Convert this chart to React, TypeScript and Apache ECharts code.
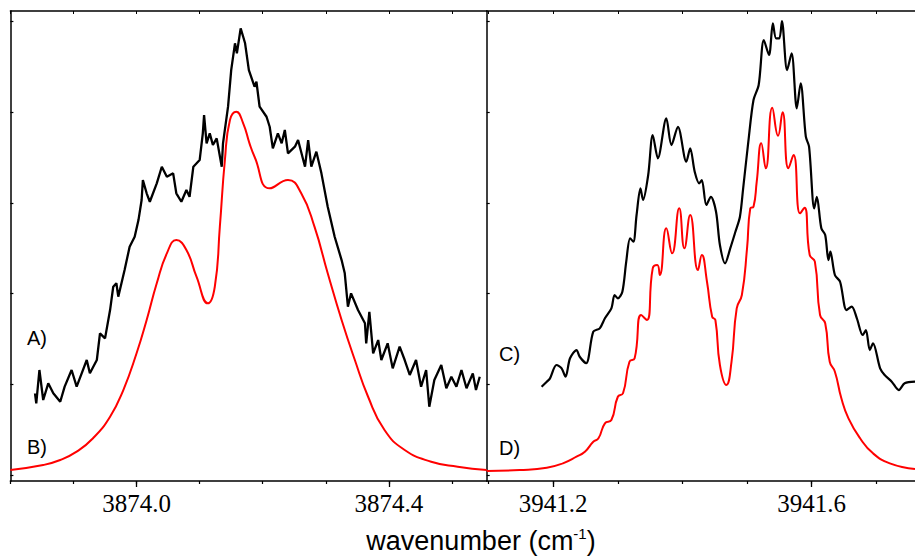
import React, { useEffect, useRef } from "react";
import * as echarts from "echarts";

// ---- Data (wavenumber in cm^-1, intensity in arbitrary units) ----
const specA_wn = [3873.839,3873.841,3873.846,3873.852,3873.860,3873.868,3873.879,3873.886,3873.897,3873.905,3873.913,3873.921,3873.926,3873.937,3873.942,3873.950,3873.958,3873.963,3873.968,3873.971,3873.981,3873.989,3873.997,3874.003,3874.008,3874.010,3874.016,3874.021,3874.032,3874.040,3874.048,3874.058,3874.063,3874.071,3874.079,3874.084,3874.090,3874.100,3874.105,3874.107,3874.111,3874.116,3874.121,3874.127,3874.135,3874.137,3874.145,3874.150,3874.156,3874.159,3874.165,3874.169,3874.172,3874.178,3874.187,3874.190,3874.195,3874.206,3874.211,3874.216,3874.224,3874.230,3874.235,3874.240,3874.251,3874.256,3874.267,3874.272,3874.277,3874.285,3874.293,3874.303,3874.314,3874.325,3874.330,3874.335,3874.340,3874.351,3874.362,3874.364,3874.369,3874.375,3874.383,3874.388,3874.398,3874.406,3874.417,3874.425,3874.433,3874.443,3874.451,3874.459,3874.464,3874.472,3874.483,3874.491,3874.499,3874.507,3874.515,3874.523,3874.533,3874.538,3874.544];
const specA_int = [0.901,0.791,1.158,0.827,1.011,0.901,0.808,0.974,1.158,0.974,1.121,1.268,1.121,1.268,1.562,1.507,1.819,2.076,2.114,1.966,2.260,2.517,2.627,2.811,3.032,3.252,3.106,3.013,3.216,3.399,3.289,3.326,3.106,3.013,3.142,3.068,3.399,3.473,3.767,3.969,3.657,3.767,3.638,3.712,3.399,3.657,4.061,4.465,4.760,4.649,4.925,4.832,4.760,4.465,4.281,4.336,4.061,3.950,3.840,3.602,3.767,3.657,3.804,3.547,3.620,3.693,3.399,3.693,3.399,3.565,3.326,2.958,2.627,2.370,2.224,1.856,2.003,1.819,1.673,1.452,1.800,1.342,1.488,1.268,1.452,1.176,1.415,1.268,1.103,1.268,0.974,1.158,0.753,1.047,1.213,0.956,1.084,0.974,1.158,0.956,1.121,0.937,1.084];

const specB_wn = [3873.800,3873.852,3873.879,3873.905,3873.931,3873.958,3873.979,3874.000,3874.016,3874.032,3874.048,3874.063,3874.079,3874.095,3874.113,3874.124,3874.132,3874.140,3874.148,3874.158,3874.169,3874.179,3874.187,3874.211,3874.240,3874.261,3874.282,3874.303,3874.325,3874.346,3874.367,3874.393,3874.425,3874.467,3874.509,3874.555];
const specB_int = [0.055,0.110,0.165,0.257,0.405,0.643,0.937,1.342,1.709,2.114,2.444,2.591,2.481,2.186,1.893,2.076,2.738,3.473,3.914,4.006,3.878,3.657,3.509,3.161,3.252,3.106,2.738,2.224,1.709,1.268,0.863,0.496,0.276,0.147,0.092,0.055];

const specC_wn = [3941.182,3941.190,3941.195,3941.205,3941.213,3941.219,3941.226,3941.236,3941.241,3941.251,3941.262,3941.272,3941.280,3941.290,3941.295,3941.300,3941.307,3941.313,3941.319,3941.324,3941.329,3941.335,3941.339,3941.347,3941.354,3941.362,3941.375,3941.383,3941.393,3941.406,3941.412,3941.419,3941.426,3941.430,3941.437,3941.444,3941.452,3941.458,3941.466,3941.474,3941.482,3941.489,3941.494,3941.502,3941.510,3941.518,3941.526,3941.534,3941.540,3941.545,3941.550,3941.554,3941.562,3941.569,3941.577,3941.583,3941.591,3941.596,3941.604,3941.608,3941.615,3941.621,3941.626,3941.629,3941.636,3941.644,3941.654,3941.662,3941.670,3941.679,3941.684,3941.690,3941.695,3941.706,3941.713,3941.724,3941.735,3941.744,3941.760];
const specC_int = [0.974,1.029,1.066,1.213,1.176,1.084,1.287,1.378,1.304,1.232,1.580,1.617,1.728,1.838,1.985,1.948,2.021,2.352,2.610,2.572,2.867,3.161,3.032,3.308,3.749,3.492,3.933,3.638,3.840,3.454,3.602,3.344,3.216,3.252,2.977,3.068,2.903,2.536,2.334,2.499,2.682,2.848,3.161,3.675,4.134,4.300,4.796,4.631,4.980,4.815,4.815,5.006,4.465,4.649,4.043,4.319,3.730,3.620,2.940,3.068,2.720,2.646,2.370,2.462,2.205,2.131,1.819,1.856,1.728,1.544,1.599,1.378,1.452,1.176,1.103,1.029,0.937,1.011,1.029];

const specD_wn = [3941.097,3941.148,3941.190,3941.215,3941.236,3941.249,3941.262,3941.270,3941.280,3941.290,3941.300,3941.308,3941.318,3941.326,3941.336,3941.345,3941.354,3941.361,3941.365,3941.375,3941.384,3941.395,3941.403,3941.412,3941.424,3941.430,3941.438,3941.446,3941.451,3941.458,3941.468,3941.476,3941.484,3941.492,3941.500,3941.505,3941.510,3941.515,3941.522,3941.529,3941.539,3941.548,3941.555,3941.564,3941.572,3941.582,3941.589,3941.597,3941.605,3941.613,3941.621,3941.628,3941.636,3941.646,3941.657,3941.675,3941.695,3941.721,3941.760];
const specD_int = [0.044,0.055,0.080,0.129,0.202,0.257,0.367,0.405,0.570,0.606,0.863,0.901,1.249,1.287,1.764,1.709,2.279,2.315,2.205,2.720,2.444,2.940,2.499,2.867,2.260,2.426,2.131,1.745,1.709,1.213,0.992,1.249,1.838,1.985,2.499,2.940,2.958,3.234,3.657,3.381,4.050,3.741,3.999,3.381,3.528,2.885,2.947,2.426,2.352,1.764,1.673,1.249,1.139,0.846,0.625,0.405,0.239,0.129,0.066];

const leftRange = [3873.8, 3874.555];
const rightRange = [3941.097, 3941.76];
const intensityRange = [-0.066, 5.116];
const leftLabelTicks = [3874.0, 3874.4];
const leftMinorTicks = [3873.8, 3873.9, 3874.0, 3874.1, 3874.2, 3874.3, 3874.4, 3874.5];
const rightLabelTicks = [3941.2, 3941.6];
const rightMinorTicks = [3941.1, 3941.2, 3941.3, 3941.4, 3941.5, 3941.6, 3941.7];
const intensityTicks = [0, 1, 2, 3, 4, 5];
const panelLabels = ["A)", "B)", "C)", "D)"];
const axisTitleMain = "wavenumber (cm";
const axisTitleSup = "-1";
const axisTitleEnd = ")";

const zip = (x: number[], y: number[]) => {
  const n = Math.min(x.length, y.length);
  const out: number[][] = [];
  for (let i = 0; i < n; i++) out.push([x[i], y[i]]);
  return out;
};

const AX = "#000";
const SANS = "Liberation Sans";
const SERIF = "Liberation Serif";

function bottomMajor(gridIndex: number, range: number[], ticks: number[]) {
  return {
    type: "value", gridIndex, position: "bottom", min: range[0], max: range[1],
    axisLine: { show: true, onZero: false, lineStyle: { color: AX, width: 1.5 } },
    axisTick: { show: true, inside: false, length: 6, customValues: ticks, lineStyle: { color: AX, width: 1.3 } },
    axisLabel: {
      show: true, customValues: ticks, margin: 10,
      formatter: (v: number) => v.toFixed(1),
      fontFamily: SERIF, fontSize: 25, color: "#000",
    },
    splitLine: { show: false },
  };
}
function bottomMinor(gridIndex: number, range: number[], ticks: number[]) {
  return {
    type: "value", gridIndex, position: "bottom", min: range[0], max: range[1],
    axisLine: { show: false, onZero: false },
    axisTick: { show: true, inside: false, length: 3, customValues: ticks, lineStyle: { color: AX, width: 1.2 } },
    axisLabel: { show: false },
    splitLine: { show: false },
  };
}
function topAxis(gridIndex: number, range: number[], ticks: number[]) {
  return {
    type: "value", gridIndex, position: "top", min: range[0], max: range[1],
    axisLine: { show: true, onZero: false, lineStyle: { color: AX, width: 1.5 } },
    axisTick: { show: true, inside: true, length: 3, customValues: ticks, lineStyle: { color: AX, width: 1 } },
    axisLabel: { show: false },
    splitLine: { show: false },
  };
}
function leftAxis(gridIndex: number) {
  return {
    type: "value", gridIndex, position: "left", min: intensityRange[0], max: intensityRange[1],
    axisLine: { show: true, onZero: false, lineStyle: { color: AX, width: 1.5 } },
    axisTick: { show: true, inside: true, length: 3, customValues: intensityTicks, lineStyle: { color: AX, width: 1.2 } },
    axisLabel: { show: false },
    splitLine: { show: false },
  };
}

export default function App() {
  const ref = useRef<HTMLDivElement>(null);
  useEffect(() => {
    if (!ref.current) return;
    const chart = echarts.init(ref.current, undefined, { renderer: "svg" });
    const line = (name: string, xi: number, yi: number, data: number[][], color: string, smooth: number | boolean, width: number) => ({
      name, type: "line", xAxisIndex: xi, yAxisIndex: yi, data, showSymbol: false, symbol: "none",
      smooth, lineStyle: { color, width }, clip: true, z: 3,
    });
    const label = (text: string, x: number, y: number) => ({
      type: "text", x, y, z: 10,
      style: { text, fontSize: 20, fontFamily: SANS, fill: "#000", align: "left", verticalAlign: "middle" },
    });
    chart.setOption({
      animation: false,
      backgroundColor: "#fff",
      grid: [
        { left: 10.4, top: 11, width: 476.3, height: 470 },
        { left: 486.7, top: 11, width: 428.3, height: 470 },
      ],
      xAxis: [
        bottomMajor(0, leftRange, leftLabelTicks),
        bottomMinor(0, leftRange, leftMinorTicks),
        topAxis(0, leftRange, leftMinorTicks),
        bottomMajor(1, rightRange, rightLabelTicks),
        bottomMinor(1, rightRange, rightMinorTicks),
        topAxis(1, rightRange, rightMinorTicks),
      ],
      yAxis: [leftAxis(0), leftAxis(1)],
      series: [
        line("A", 0, 0, zip(specA_wn, specA_int), "#000", false, 2.3),
        line("B", 0, 0, zip(specB_wn, specB_int), "#ff0000", 0.5, 2),
        line("C", 3, 1, zip(specC_wn, specC_int), "#000", 0.3, 2.2),
        line("D", 3, 1, zip(specD_wn, specD_int), "#ff0000", 0.5, 2),
      ],
      graphic: [
        label(panelLabels[0], 27, 338),
        label(panelLabels[1], 27, 447),
        label(panelLabels[2], 499, 354),
        label(panelLabels[3], 499, 448),
        {
          type: "text", x: 481, y: 541, z: 10,
          style: {
            text: `{m|${axisTitleMain}}{s|${axisTitleSup}}{m|${axisTitleEnd}}`,
            align: "center", verticalAlign: "middle",
            rich: {
              m: { fontSize: 27, fontFamily: SANS, fill: "#000", lineHeight: 31 },
              s: { fontSize: 15, fontFamily: SANS, fill: "#000", verticalAlign: "top", lineHeight: 15 },
            },
          },
        },
      ],
    });
    return () => chart.dispose();
  }, []);
  return (
    <div
      ref={ref}
      style={{ position: "fixed", left: 0, top: 0, width: 915, height: 560, background: "#fff" }}
    />
  );
}
